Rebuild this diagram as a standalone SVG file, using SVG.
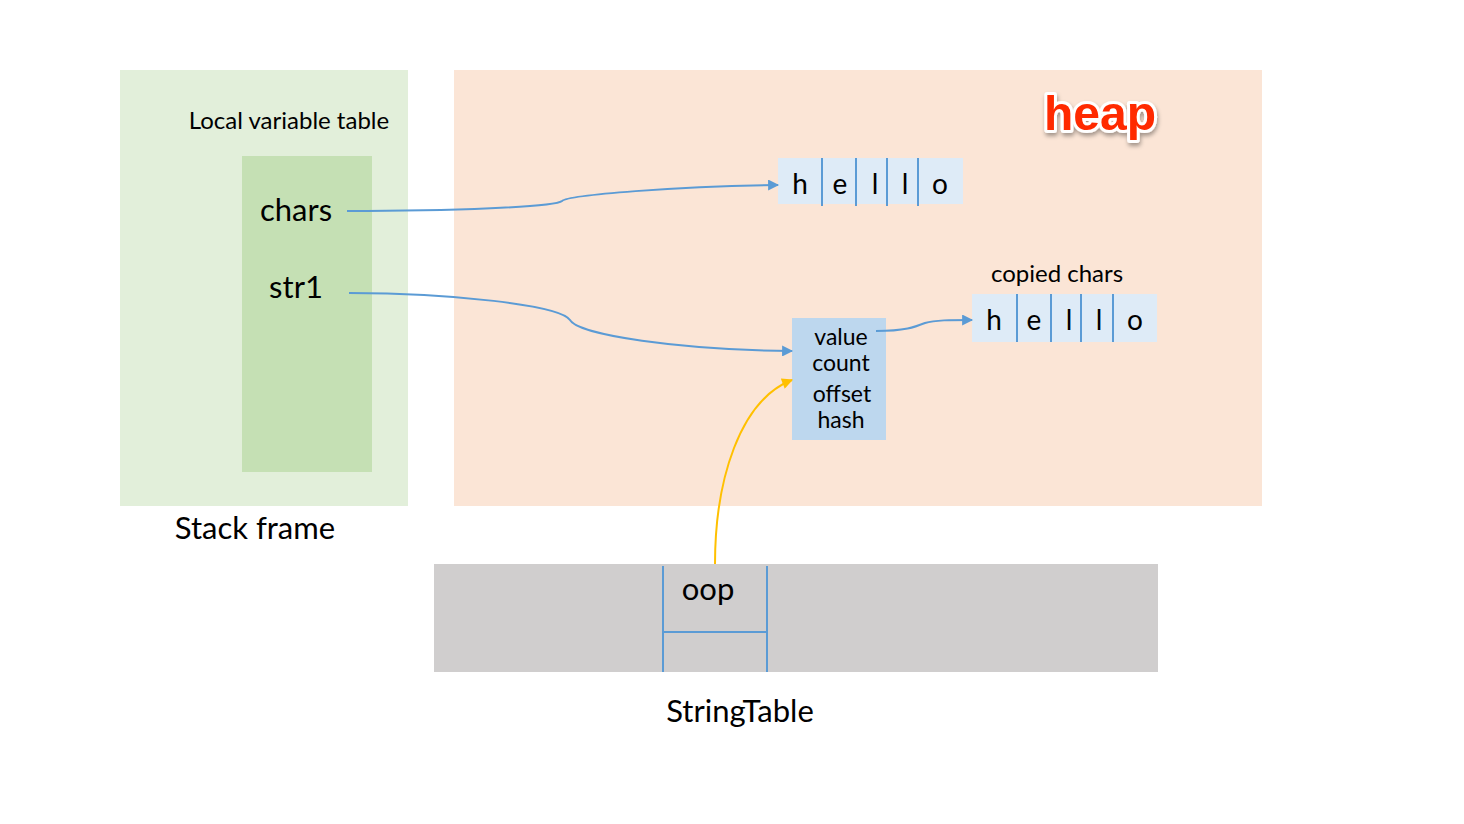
<svg xmlns="http://www.w3.org/2000/svg" width="1464" height="824" viewBox="0 0 1464 824">
<defs>
<style>
text{font-family:Lato,"Open Sans","Liberation Sans",sans-serif;fill:#000;text-anchor:middle}
.big{font-size:31px}
.mid{font-size:24px}
.cell{font-size:28px}
.obj{font-size:23px}
.div{stroke:#5b9bd5;stroke-width:2}
.conn{fill:none;stroke:#5b9bd5;stroke-width:2}
</style>
<marker id="ab" viewBox="0 0 10 10" refX="9" refY="5" markerWidth="13" markerHeight="11" markerUnits="userSpaceOnUse" orient="auto"><path d="M0,0 L10,5 L0,10 z" fill="#5b9bd5"/></marker>
<marker id="ay" viewBox="0 0 10 10" refX="9" refY="5" markerWidth="13" markerHeight="11" markerUnits="userSpaceOnUse" orient="auto"><path d="M0,0 L10,5 L0,10 z" fill="#ffc000"/></marker>
<filter id="sh" x="-20%" y="-20%" width="140%" height="160%"><feDropShadow dx="1" dy="3" stdDeviation="2" flood-color="#000" flood-opacity="0.35"/></filter>
</defs>
<rect width="1464" height="824" fill="#fff"/>
<g id="stack-frame">
<rect x="120" y="70" width="288" height="436" fill="#e2efda"/>
<text class="mid" x="289" y="129">Local variable table</text>
<rect x="242" y="156" width="130" height="316" fill="#c5e0b4"/>
<text class="big" x="296" y="221">chars</text>
<text class="big" x="296" y="298">str1</text>
<text class="big" x="255" y="539">Stack frame</text>
</g>
<g id="heap">
<rect x="454" y="70" width="808" height="436" fill="#fbe5d6"/>
<text x="1100" y="130" style="font-family:'Liberation Sans',Arial,sans-serif;font-weight:bold;font-size:48px;fill:#ff2a00;stroke:#fff;stroke-width:6;paint-order:stroke;stroke-linejoin:round" filter="url(#sh)">heap</text>
</g>
<g id="hello1">
<rect x="778" y="158" width="185" height="46" fill="#deebf7"/>
<line class="div" x1="822" y1="158" x2="822" y2="206"/>
<line class="div" x1="856" y1="158" x2="856" y2="206"/>
<line class="div" x1="887" y1="158" x2="887" y2="206"/>
<line class="div" x1="918" y1="158" x2="918" y2="206"/>
<text class="cell" x="800" y="194">h</text>
<text class="cell" x="840" y="194">e</text>
<text class="cell" x="875" y="194">l</text>
<text class="cell" x="905" y="194">l</text>
<text class="cell" x="940" y="194">o</text>
</g>
<g id="hello2">
<text class="mid" x="1057" y="282">copied chars</text>
<rect x="972" y="294" width="185" height="48" fill="#deebf7"/>
<line class="div" x1="1017" y1="294" x2="1017" y2="342"/>
<line class="div" x1="1051" y1="294" x2="1051" y2="342"/>
<line class="div" x1="1081" y1="294" x2="1081" y2="342"/>
<line class="div" x1="1113" y1="294" x2="1113" y2="342"/>
<text class="cell" x="994" y="330">h</text>
<text class="cell" x="1034" y="330">e</text>
<text class="cell" x="1069" y="330">l</text>
<text class="cell" x="1099" y="330">l</text>
<text class="cell" x="1135" y="330">o</text>
</g>
<g id="string-object">
<rect x="792" y="318" width="94" height="122" fill="#bdd7ee"/>
<text class="obj" x="841" y="345">value</text>
<text class="obj" x="841" y="371">count</text>
<text class="obj" x="842" y="402">offset</text>
<text class="obj" x="841" y="428">hash</text>
</g>
<g id="string-table">
<rect x="434" y="564" width="724" height="108" fill="#d0cece"/>
<line class="div" x1="663" y1="566" x2="663" y2="672"/>
<line class="div" x1="767" y1="566" x2="767" y2="672"/>
<line class="div" x1="663" y1="632" x2="767" y2="632"/>
<text class="big" x="708" y="600">oop</text>
<text class="big" x="740" y="722">StringTable</text>
</g>
<g id="connectors">
<path class="conn" d="M347,211 C450,211 555,207 562,201 C568,195 680,186 778,185" marker-end="url(#ab)"/>
<path class="conn" d="M349,293 C450,293 560,305 570,320 C578,335 680,350 792,351" marker-end="url(#ab)"/>
<path class="conn" d="M876,331 C905,331 915,327 925,323 C935,320 950,320 972,320" marker-end="url(#ab)"/>
<path d="M715,564 C715,480 740,400 792,380" fill="none" stroke="#ffc000" stroke-width="2" marker-end="url(#ay)"/>
</g>
</svg>
